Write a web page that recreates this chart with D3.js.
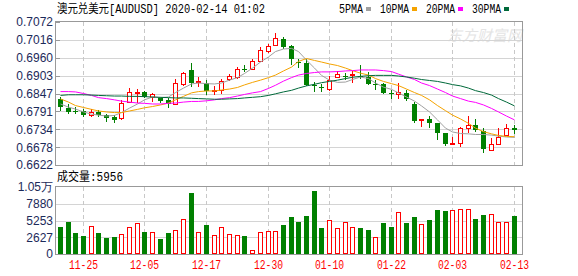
<!DOCTYPE html>
<html>
<head>
<meta charset="utf-8">
<script src="https://cdn.jsdelivr.net/npm/d3@7"></script>
<style>
body { margin: 0; background: #fff; }
svg { display: block; }
</style>
</head>
<body>
<script>
var dates = ["11-20","11-21","11-22","11-25","11-26","11-27","11-28","11-29","12-02","12-03",
    "12-04","12-05","12-06","12-09","12-10","12-11","12-12","12-13","12-16","12-17",
    "12-18","12-19","12-20","12-23","12-24","12-26","12-27","12-30","12-31","01-02",
    "01-03","01-06","01-07","01-08","01-09","01-10","01-13","01-14","01-15","01-16",
    "01-17","01-20","01-21","01-22","01-23","01-24","01-27","01-28","01-29","01-30",
    "01-31","02-03","02-04","02-05","02-06","02-07","02-10","02-11","02-12","02-13"];

var open = [.6829,.6800,.6793,.6793,.6780,.6789,.6778,.6773,.6771,.6821,
    .6849,.6852,.6837,.6834,.6826,.6814,.6877,.6921,.6884,.6881,
    .6855,.6857,.6892,.6899,.6925,.6925,.6949,.6980,.7001,.7019,
    .6997,.6946,.6944,.6873,.6868,.6862,.6900,.6902,.6904,.6903,
    .6898,.6878,.6877,.6849,.6846,.6850,.6814,.6763,.6766,.6755,
    .6724,.6689,.6692,.6739,.6747,.6730,.6669,.6688,.6716,.6740];
var high = [.6835,.6813,.6805,.6797,.6797,.6794,.6784,.6779,.6827,.6864,
    .6860,.6856,.6850,.6837,.6832,.6892,.6915,.6942,.6900,.6889,
    .6871,.6894,.6909,.6930,.6936,.6956,.6993,.7004,.7037,.7025,
    .6999,.6956,.6956,.6883,.6878,.6902,.6919,.6912,.6919,.6937,
    .6914,.6889,.6879,.6858,.6879,.6858,.6821,.6767,.6776,.6755,
    .6724,.6709,.6742,.6776,.6766,.6737,.6706,.6737,.6751,.6748];
var low = [.6793,.6782,.6782,.6772,.6772,.6773,.6758,.6755,.6764,.6816,
    .6816,.6832,.6821,.6818,.6802,.6810,.6871,.6868,.6868,.6842,
    .6842,.6846,.6885,.6894,.6915,.6920,.6946,.6975,.6997,.6988,
    .6936,.6927,.6871,.6852,.6852,.6854,.6895,.6889,.6881,.6892,
    .6874,.6858,.6845,.6830,.6830,.6823,.6753,.6741,.6737,.6701,
    .6682,.6685,.6680,.6724,.6727,.6661,.6667,.6684,.6713,.6719];
var close = [.6805,.6788,.6789,.6778,.6788,.6779,.6771,.6763,.6818,.6852,
    .6852,.6835,.6844,.6823,.6813,.6879,.6911,.6879,.6887,.6856,
    .6857,.6885,.6902,.6923,.6923,.6949,.6985,.6997,.7022,.6993,
    .6955,.6943,.6873,.6870,.6865,.6888,.6907,.6902,.6908,.6900,
    .6876,.6878,.6848,.6846,.6853,.6829,.6761,.6766,.6755,.6722,
    .6688,.6692,.6737,.6748,.6732,.6673,.6688,.6709,.6737,.6732];
var volume = [4264,5044,3328,2860,4420,3328,2548,2704,3120,4264,
    4836,3484,3432,2392,3328,3744,5512,9568,3432,4576,
    2964,4264,3120,2964,2860,624,3432,3588,3588,4576,
    5824,5044,5980,9880,4108,5304,4108,4992,4264,4108,
    3796,2704,4888,4264,6552,4888,5824,4680,5356,6916,
    6760,6916,7072,7072,5512,6136,6240,4992,4992,5956];

// moving averages
var ma5 = [.6814,.6804,.6798,.6789,.6782,.6779,.6776,.6778,.6787,.6801,
    .6814,.6827,.6836,.6834,.6836,.6850,.6864,.6877,.6880,.6878,
    .6877,.6880,.6889,.6897,.6910,.6927,.6946,.6962,.6979,.6987,
    .6989,.6979,.6952,.6927,.6904,.6889,.6882,.6883,.6891,.6899,
    .6894,.6880,.6867,.6860,.6849,.6836,.6823,.6808,.6789,.6764,
    .6738,.6726,.6721,.6720,.6718,.6718,.6716,.6713,.6710,.6709];
var ma10 = [.6830,.6820,.6809,.6803,.6797,.6792,.6789,.6787,.6787,.6792,
    .6797,.6802,.6806,.6811,.6817,.6827,.6838,.6849,.6853,.6855,
    .6855,.6858,.6861,.6866,.6874,.6882,.6889,.6897,.6905,.6918,
    .6930,.6948,.6957,.6951,.6946,.6940,.6935,.6927,.6919,.6911,
    .6905,.6894,.6885,.6878,.6872,.6861,.6850,.6841,.6827,.6809,
    .6793,.6779,.6767,.6753,.6738,.6727,.6720,.6715,.6712,.6711];
var ma20 = [.6853,.6853,.6852,.6847,.6841,.6834,.6831,.6827,.6823,.6820,
    .6817,.6816,.6814,.6814,.6816,.6817,.6820,.6822,.6822,.6824,
    .6827,.6831,.6834,.6839,.6844,.6849,.6853,.6863,.6873,.6886,
    .6897,.6905,.6910,.6913,.6915,.6915,.6916,.6918,.6919,.6921,
    .6921,.6921,.6919,.6916,.6908,.6899,.6891,.6880,.6872,.6861,
    .6850,.6839,.6831,.6823,.6819,.6811,.6800,.6789,.6776,.6764];
var ma30 = [.6841,.6843,.6843,.6843,.6842,.6841,.6840,.6839,.6839,.6838,
    .6838,.6837,.6836,.6835,.6834,.6833,.6833,.6832,.6831,.6830,
    .6829,.6829,.6830,.6831,.6833,.6835,.6837,.6841,.6846,.6852,
    .6857,.6864,.6871,.6876,.6881,.6885,.6889,.6894,.6898,.6901,
    .6903,.6904,.6904,.6904,.6902,.6899,.6895,.6891,.6888,.6885,
    .6880,.6875,.6871,.6864,.6856,.6850,.6842,.6831,.6820,.6808];

var priceTicks = ["0.7072","0.7016","0.6960","0.6903","0.6847","0.6791","0.6734","0.6678","0.6622"];
var volTicks = [10506, 7880, 5253, 2627, 0];
var volTickLabels = ["1.05万", "7880", "5253", "2627", "0"];
var dateTicks = ["11-25","12-05","12-17","12-30","01-10","01-22","02-03","02-13"];

var maNames = ["5PMA", "10PMA", "20PMA", "30PMA"];
var maColors = ["#a0a0a0", "#f5a300", "#ff00ff", "#00693a"];

var width = 578,
    height = 276;

var mono = "'Liberation Mono', 'Noto Sans CJK SC', monospace",
    sans = "'Liberation Sans', Arial, sans-serif";

var svg = d3.select("body").append("svg")
    .attr("width", width)
    .attr("height", height);

var x = d3.scaleBand()
    .domain(dates)
    .range([56, 517.6]);

var y = d3.scaleLinear()
    .domain([0.6622, 0.7072])
    .range([165, 22]);

var yv = d3.scaleLinear()
    .domain([0, 10506])
    .range([254, 187]);

function cx(d) {
    return Math.round(x(d) + x.bandwidth() / 2);
}

// title + legend
svg.append("text")
    .attr("x", 57).attr("y", 13)
    .attr("textLength", 208).attr("lengthAdjust", "spacingAndGlyphs")
    .style("font-family", mono).style("font-size", "12px")
    .text("澳元兑美元[AUDUSD] 2020-02-14 01:02");

var legendX = [339, 380, 426, 472],
    legendW = [24, 29, 29, 29];
maNames.forEach(function(name, i) {
    svg.append("text")
        .attr("x", legendX[i]).attr("y", 13)
        .attr("textLength", legendW[i]).attr("lengthAdjust", "spacingAndGlyphs")
        .style("font-family", mono).style("font-size", "12px")
        .text(name);
    svg.append("rect")
        .attr("x", legendX[i] + legendW[i] + 3).attr("y", 7)
        .attr("width", 5).attr("height", 4)
        .style("fill", maColors[i]);
});

// watermark
svg.append("text")
    .attr("x", 447).attr("y", 41)
    .style("font-family", "'Noto Sans CJK SC', sans-serif").style("font-size", "15px")
    .style("font-style", "italic")
    .style("fill", "#e4e4e4")
    .text("东方财富网");

// grids
var grid = svg.append("g").attr("shape-rendering", "crispEdges");

grid.selectAll(".hgrid")
    .data(priceTicks.slice(1, -1))
    .enter().append("line")
    .attr("x1", 56).attr("x2", 522)
    .attr("y1", function(d) { return Math.round(y(+d)) + 0.5; })
    .attr("y2", function(d) { return Math.round(y(+d)) + 0.5; })
    .style("stroke", "#d4d4d4");

grid.selectAll(".vhgrid")
    .data(volTicks.slice(1, -1))
    .enter().append("line")
    .attr("x1", 56).attr("x2", 522)
    .attr("y1", function(d) { return Math.round(yv(d)) + 0.5; })
    .attr("y2", function(d) { return Math.round(yv(d)) + 0.5; })
    .style("stroke", "#d4d4d4");

[[22, 165], [187, 254]].forEach(function(r) {
    grid.selectAll(null)
        .data(dateTicks)
        .enter().append("line")
        .attr("x1", function(d) { return cx(d) + 0.5; })
        .attr("x2", function(d) { return cx(d) + 0.5; })
        .attr("y1", r[0]).attr("y2", r[1])
        .style("stroke", "#c8c8c8")
        .style("stroke-dasharray", "4,3");
});

// candles
var candles = dates.map(function(d, i) {
    return {date: d, o: open[i], h: high[i], l: low[i], c: close[i], v: volume[i]};
});

var cg = svg.append("g").attr("shape-rendering", "crispEdges");

cg.selectAll(".wick")
    .data(candles)
    .enter().append("line")
    .attr("x1", function(d) { return cx(d.date) + 0.5; })
    .attr("x2", function(d) { return cx(d.date) + 0.5; })
    .attr("y1", function(d) { return y(d.h); })
    .attr("y2", function(d) { return y(d.l); })
    .style("stroke", function(d) { return d.c > d.o ? "#ff0000" : "#008000"; });

cg.selectAll(".body")
    .data(candles)
    .enter().append("rect")
    .attr("x", function(d) {
        return d.c > d.o ? cx(d.date) - 1.5 : cx(d.date) - 2;
    })
    .attr("y", function(d) {
        var t = Math.round(y(Math.max(d.o, d.c)));
        return d.c > d.o ? t + 0.5 : t;
    })
    .attr("width", function(d) { return d.c > d.o ? 4 : 5; })
    .attr("height", function(d) {
        var h = Math.round(y(Math.min(d.o, d.c))) - Math.round(y(Math.max(d.o, d.c)));
        if (d.c > d.o) return Math.max(h, 1);
        return Math.max(h, 1);
    })
    .style("fill", function(d) { return d.c > d.o ? "#fff" : "#008000"; })
    .style("stroke", function(d) { return d.c > d.o ? "#ff0000" : "none"; });

// moving averages
[ma5, ma10, ma20, ma30].forEach(function(arr, k) {
    var line = d3.line()
        .x(function(d, i) { return cx(dates[i]) + 0.5; })
        .y(function(d) { return y(d); });
    svg.append("path")
        .datum(arr)
        .attr("d", line)
        .style("fill", "none")
        .style("stroke", maColors[k])
        .style("stroke-width", 1);
});

// volume bars
cg.selectAll(".vol")
    .data(candles)
    .enter().append("rect")
    .attr("x", function(d) {
        return d.c >= d.o ? cx(d.date) - 1.5 : cx(d.date) - 2;
    })
    .attr("y", function(d) {
        var t = Math.round(yv(d.v));
        return d.c >= d.o ? t + 0.5 : t;
    })
    .attr("width", function(d) { return d.c >= d.o ? 4 : 5; })
    .attr("height", function(d) {
        var h = 254 - Math.round(yv(d.v));
        return d.c >= d.o ? h - 1 : h;
    })
    .style("fill", function(d) { return d.c >= d.o ? "#fff" : "#008000"; })
    .style("stroke", function(d) { return d.c >= d.o ? "#ff0000" : "none"; });

// frames
svg.append("rect")
    .attr("x", 55.5).attr("y", 21.5).attr("width", 467).attr("height", 144)
    .style("fill", "none").style("stroke", "#999");
svg.append("rect")
    .attr("x", 55.5).attr("y", 186.5).attr("width", 467).attr("height", 68)
    .style("fill", "none").style("stroke", "#999");

// y axes
var labelColor = "#1c2a5a";

svg.selectAll(".ptick")
    .data(priceTicks)
    .enter().append("line")
    .attr("x1", 56).attr("x2", 60)
    .attr("y1", function(d) { return Math.round(y(+d)) + 0.5; })
    .attr("y2", function(d) { return Math.round(y(+d)) + 0.5; })
    .attr("shape-rendering", "crispEdges")
    .style("stroke", "#999");

svg.selectAll(".plabel")
    .data(priceTicks)
    .enter().append("text")
    .attr("x", 53)
    .attr("y", function(d) { return y(+d); })
    .attr("dy", "0.36em")
    .attr("text-anchor", "end")
    .style("font-family", sans).style("font-size", "12px")
    .style("fill", labelColor)
    .text(function(d) { return d; });

svg.selectAll(".vlabel")
    .data(volTicks)
    .enter().append("text")
    .attr("x", 53)
    .attr("y", function(d) { return yv(d); })
    .attr("dy", "0.36em")
    .attr("text-anchor", "end")
    .style("font-family", sans).style("font-size", "12px")
    .style("fill", labelColor)
    .text(function(d, i) { return volTickLabels[i]; });

svg.append("text")
    .attr("x", 57).attr("y", 181)
    .attr("textLength", 66).attr("lengthAdjust", "spacingAndGlyphs")
    .style("font-family", mono).style("font-size", "12px")
    .text("成交量:" + volume[volume.length - 1]);

// x axis labels
svg.selectAll(".xlabel")
    .data(dateTicks)
    .enter().append("text")
    .attr("x", function(d) { return cx(d) + 0.5; })
    .attr("y", 269)
    .attr("text-anchor", "middle")
    .attr("textLength", 29).attr("lengthAdjust", "spacingAndGlyphs")
    .style("font-family", mono).style("font-size", "12px")
    .style("fill", "#ff0000")
    .text(function(d) { return d; });
</script>
</body>
</html>
